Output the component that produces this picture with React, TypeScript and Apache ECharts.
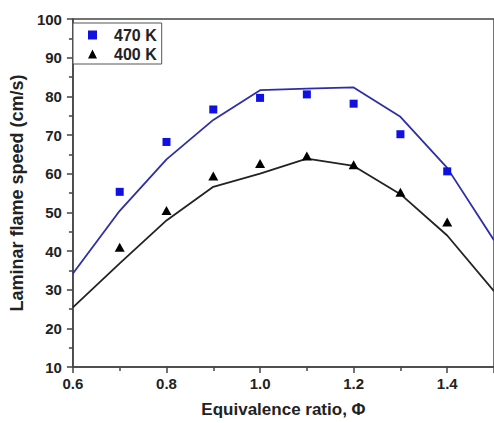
import React, { useEffect, useRef } from "react";
import * as echarts from "echarts";

const phiPoints = [0.7, 0.8, 0.9, 1.0, 1.1, 1.2, 1.3, 1.4];
const exp470 = [55.3, 68.2, 76.6, 79.6, 80.5, 78.1, 70.2, 60.6];
const exp400 = [41.0, 50.5, 59.4, 62.6, 64.6, 62.3, 55.2, 47.5];

const phiLine = [0.6, 0.7, 0.8, 0.9, 1.0, 1.1, 1.2, 1.3, 1.4, 1.5];
const sim470 = [34.2, 50.4, 63.7, 73.9, 81.6, 82.0, 82.3, 74.7, 61.5, 42.8];
const sim400 = [25.4, 36.8, 47.9, 56.6, 60.0, 63.9, 62.0, 54.7, 44.0, 29.6];

const xTickLabels = ["0.6", "0.8", "1.0", "1.2", "1.4"];

const FONT = "'Liberation Sans', Arial, sans-serif";

export default function App() {
  const ref = useRef<HTMLDivElement>(null);

  useEffect(() => {
    if (!ref.current) return;
    const chart = echarts.init(ref.current, undefined, { renderer: "svg" });
    const pair = (xs: number[], ys: number[]) => xs.map((x, i) => [x, ys[i]]);

    chart.setOption({
      animation: false,
      backgroundColor: "#ffffff",
      textStyle: { fontFamily: FONT },
      grid: {
        left: 70,
        top: 19,
        width: 430,
        height: 350,
        show: true,
        borderColor: "#444",
        borderWidth: 1.5,
        backgroundColor: "transparent",
      },
      legend: {
        orient: "vertical",
        left: 73,
        top: 23,
        padding: [4, 5, 2, 15],
        itemGap: 3,
        itemWidth: 9,
        itemHeight: 9,
        borderColor: "#555",
        borderWidth: 1,
        backgroundColor: "#fff",
        textStyle: {
          fontFamily: FONT,
          fontWeight: "bold",
          fontSize: 16,
          color: "#222",
          padding: [0, 0, 0, 12],
        },
        data: [
          { name: "470 K", icon: "rect", itemStyle: { color: "#1010e0", opacity: 1 } },
          { name: "400 K", icon: "triangle", itemStyle: { color: "#000", opacity: 1 } },
        ],
      },
      xAxis: {
        type: "value",
        min: 0.6,
        max: 1.5,
        interval: 0.2,
        name: "Equivalence ratio, Φ",
        nameLocation: "middle",
        nameGap: 34,
        nameTextStyle: { fontFamily: FONT, fontWeight: "bold", fontSize: 17, color: "#222" },
        axisLine: { show: true, onZero: false, lineStyle: { color: "#444", width: 1.5 } },
        axisTick: { show: true, inside: false, length: 6, lineStyle: { color: "#444", width: 1.5 } },
        minorTick: { show: true, splitNumber: 2, length: 4, lineStyle: { color: "#444", width: 1.5 } },
        splitLine: { show: false },
        axisLabel: {
          fontFamily: FONT,
          fontWeight: "bold",
          fontSize: 15,
          color: "#222",
          margin: 9,
          showMaxLabel: false,
          formatter: (v: number) => {
            const s = v.toFixed(1);
            return xTickLabels.includes(s) ? s : "";
          },
        },
      },
      yAxis: {
        type: "value",
        min: 10,
        max: 100,
        interval: 10,
        name: "Laminar flame speed (cm/s)",
        nameLocation: "middle",
        nameGap: 34,
        nameTextStyle: { fontFamily: FONT, fontWeight: "bold", fontSize: 18, color: "#222" },
        axisLine: { show: true, onZero: false, lineStyle: { color: "#444", width: 1.5 } },
        axisTick: { show: true, inside: false, length: 6, lineStyle: { color: "#444", width: 1.5 } },
        minorTick: { show: true, splitNumber: 2, length: 4, lineStyle: { color: "#444", width: 1.5 } },
        splitLine: { show: false },
        axisLabel: {
          fontFamily: FONT,
          fontWeight: "bold",
          fontSize: 15,
          color: "#222",
          margin: 11,
        },
      },
      series: [
        {
          name: "470 K sim",
          type: "line",
          data: pair(phiLine, sim470),
          symbol: "none",
          lineStyle: { color: "#2e2ea6", width: 1.8 },
          itemStyle: { color: "#2e2ea6" },
          z: 2,
        },
        {
          name: "400 K sim",
          type: "line",
          data: pair(phiLine, sim400),
          symbol: "none",
          lineStyle: { color: "#222", width: 1.8 },
          itemStyle: { color: "#222" },
          z: 2,
        },
        {
          name: "470 K",
          type: "scatter",
          data: pair(phiPoints, exp470),
          symbol: "rect",
          symbolSize: 8,
          itemStyle: { color: "#1010e0", opacity: 1 },
          z: 3,
        },
        {
          name: "400 K",
          type: "scatter",
          data: pair(phiPoints, exp400),
          symbol: "triangle",
          symbolSize: [10, 9],
          itemStyle: { color: "#000", opacity: 1 },
          z: 3,
        },
      ],
    });

    return () => chart.dispose();
  }, []);

  return (
    <div
      ref={ref}
      style={{ position: "fixed", left: 0, top: 0, width: 494, height: 423, background: "#fff" }}
    />
  );
}
